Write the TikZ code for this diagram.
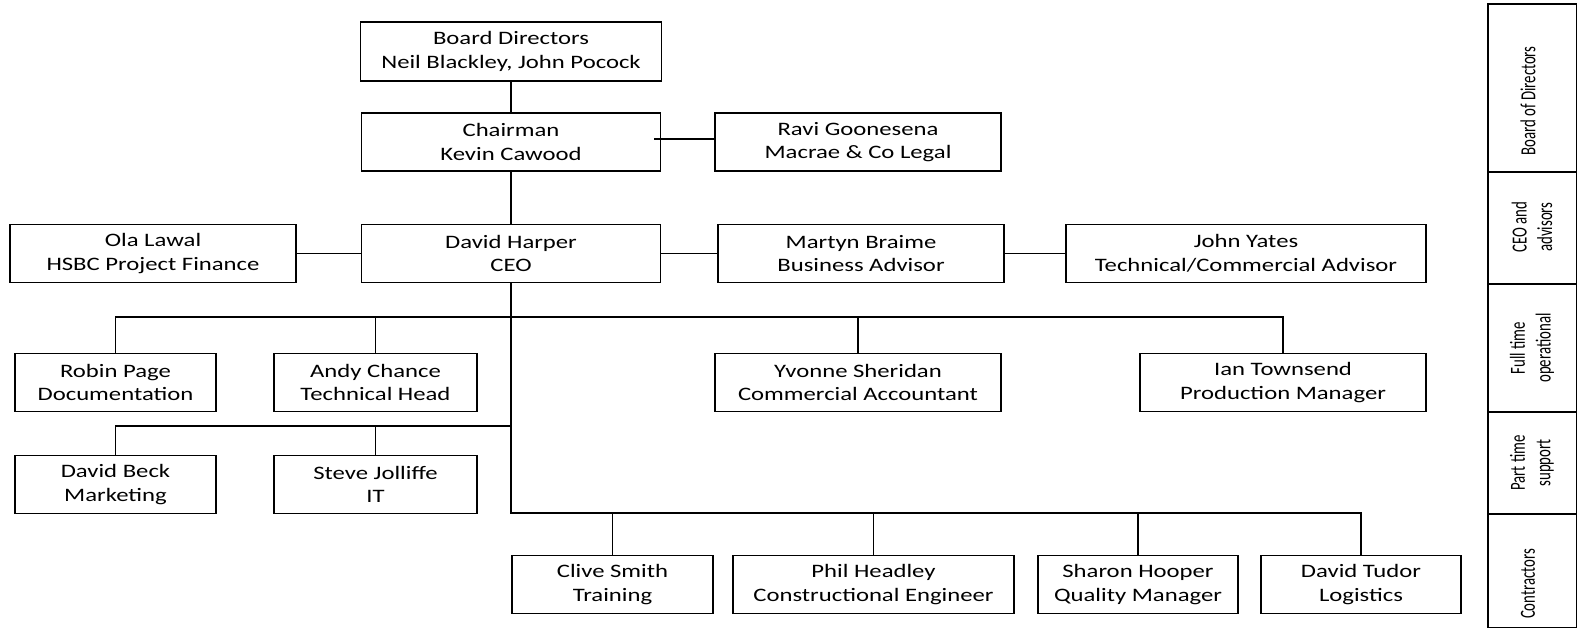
\documentclass[tikz,border=0pt]{standalone}
\usepackage{fontspec}
\setmainfont{Carlito}[FakeStretch=1.3]
\newfontfamily\condfont{Carlito}[FakeStretch=0.69]
\begin{document}
\begin{tikzpicture}[x=1pt,y=-1pt,
  box/.style={draw=black, line width=1.2pt, inner sep=0pt, align=center,
    minimum height=58pt, font=\fontsize{19}{23.5}\selectfont, text=black},
  link/.style={draw=black, line width=1.2pt},
  cell/.style={draw=black, line width=1.2pt},
  celltext/.style={rotate=90, align=center, inner sep=0pt,
    font=\condfont\fontsize{21.5}{25.5}\selectfont, text=black}]
\useasboundingbox (0,0) rectangle (1577,628);

% boxes
\node[box, minimum width=301pt, minimum height=59pt] (board) at (511,51.5) {Board Directors\\Neil Blackley, John Pocock};
\node[box, minimum width=299pt] (chair) at (511,142) {Chairman\\Kevin Cawood};
\node[box, minimum width=286pt] (ravi) at (858,142) {Ravi Goonesena\\Macrae \& Co Legal};
\node[box, minimum width=286pt] (ola) at (153,253.5) {Ola Lawal\\HSBC Project Finance};
\node[box, minimum width=299pt] (ceo) at (511,253.5) {David Harper\\CEO};
\node[box, minimum width=286pt] (martyn) at (861,253.5) {Martyn Braime\\Business Advisor};
\node[box, minimum width=360pt] (yates) at (1246,253.5) {John Yates\\Technical/Commercial Advisor};
\node[box, minimum width=201pt] (robin) at (115.5,382.5) {Robin Page\\Documentation};
\node[box, minimum width=203pt] (andy) at (375.5,382.5) {Andy Chance\\Technical Head};
\node[box, minimum width=286pt] (yvonne) at (858,382.5) {Yvonne Sheridan\\Commercial Accountant};
\node[box, minimum width=286pt] (ian) at (1283,382.5) {Ian Townsend\\Production Manager};
\node[box, minimum width=201pt] (beck) at (115.5,484.5) {David Beck\\Marketing};
\node[box, minimum width=203pt] (steve) at (375.5,484.5) {Steve Jolliffe\\IT};
\node[box, minimum width=201pt] (clive) at (612.5,584.5) {Clive Smith\\Training};
\node[box, minimum width=281pt] (phil) at (873.5,584.5) {Phil Headley\\Constructional Engineer};
\node[box, minimum width=200pt] (sharon) at (1138,584.5) {Sharon Hooper\\Quality Manager};
\node[box, minimum width=200pt] (tudor) at (1361,584.5) {David Tudor\\Logistics};

% bus coordinates
\coordinate (busA) at (511,317);
\coordinate (busB) at (511,426);
\coordinate (busC) at (511,513);
\coordinate (ravistart) at (654,139);

% connectors
\draw[link] (board.south) -- (chair.north);
\draw[link] (chair.south) -- (ceo.north);
\draw[link] (ravistart) -- (ravistart -| ravi.west);
\draw[link] (ola.east) -- (ceo.west);
\draw[link] (ceo.east) -- (martyn.west);
\draw[link] (martyn.east) -- (yates.west);
\draw[link] (ceo.south) -- (busC) -- (busC -| tudor.north) -- (tudor.north);
\draw[link] (robin.north) -- (robin.north |- busA) -- (ian.north |- busA) -- (ian.north);
\draw[link] (andy.north) -- (andy.north |- busA);
\draw[link] (yvonne.north) -- (yvonne.north |- busA);
\draw[link] (beck.north) -- (beck.north |- busB) -- (busB);
\draw[link] (steve.north) -- (steve.north |- busB);
\draw[link] (clive.north) -- (clive.north |- busC);
\draw[link] (phil.north) -- (phil.north |- busC);
\draw[link] (sharon.north) -- (sharon.north |- busC);

% legend column
\draw[cell] (1488,4) rectangle (1577,172);
\draw[cell] (1488,172) rectangle (1577,284);
\draw[cell] (1488,284) rectangle (1577,412);
\draw[cell] (1488,412) rectangle (1577,514);
\draw[cell] (1488,514) rectangle (1577,628);
\node[celltext] (l1) at (1528,101) {Board of Directors};
\node[celltext] (l2) at (1532,227) {CEO and\\advisors};
\node[celltext] (l3) at (1532,348) {Full time\\operational};
\node[celltext] (l4) at (1532,463) {Part time\\support};
\node[celltext] (l5) at (1528,584) {Contractors};
\end{tikzpicture}
\end{document}
